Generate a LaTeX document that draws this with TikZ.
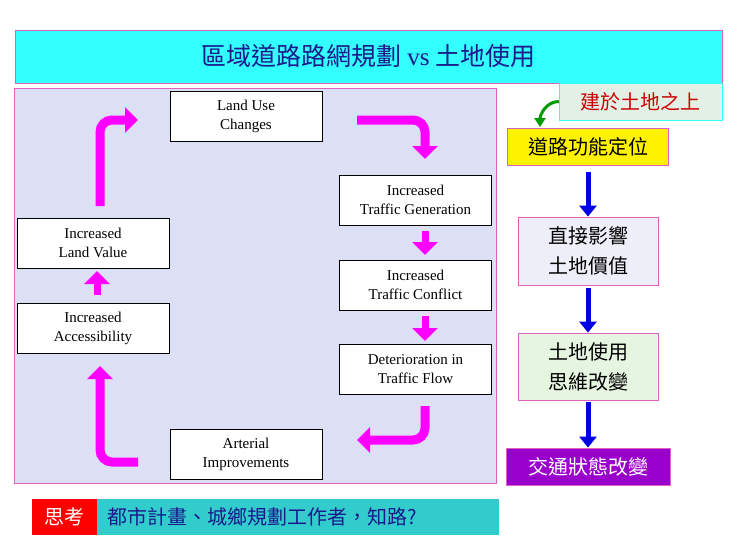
\documentclass[tikz,border=0pt]{standalone}
\usepackage{fontspec}
\setmainfont{Liberation Serif}
\newfontfamily\cjk{Noto Sans CJK TC}
\usetikzlibrary{arrows.meta}
\definecolor{lavbg}{HTML}{DDE0F5}
\definecolor{pinkline}{HTML}{E060C0}
\definecolor{titlecyan}{HTML}{33FFFF}
\definecolor{titleblue}{HTML}{1A1A8C}
\definecolor{flowpink}{HTML}{FF00FF}
\definecolor{sagegreen}{HTML}{E2F0E6}
\definecolor{mintbg}{HTML}{E6F5E0}
\definecolor{lilacbg}{HTML}{EEEEF8}
\definecolor{deeppurple}{HTML}{9900CC}
\definecolor{tealbox}{HTML}{33CCCC}
\tikzset{
  cyclebox/.style={draw=black, fill=white, minimum width=152pt, minimum height=50pt, align=center, font=\fontsize{15}{19}\selectfont, inner sep=0pt},
  cjkbox/.style={draw=pinkline, thick, align=center, inner sep=0pt, font=\cjk\fontsize{20}{30}\selectfont},
  flow/.style={flowpink, line width=9pt, -{Triangle[length=13pt,width=25pt]}, rounded corners=12pt},
  down/.style={blue!90!black, line width=5pt, -{Triangle[length=11pt,width=17pt]}}
}
\begin{document}
\begin{tikzpicture}[x=1pt,y=-1pt]
    \useasboundingbox (0,0) rectangle (740,555);
    \fill[white] (0,0) rectangle (740,555);

    % Title
    \node[draw=pinkline, fill=titlecyan, minimum width=707pt, minimum height=53pt, inner sep=0pt, text=titleblue, font=\fontsize{25}{28}\selectfont] (title) at (368.5,56.5) {{\cjk 區域道路路網規劃} vs {\cjk 土地使用}};

    % Cycle panel
    \draw[pinkline, fill=lavbg] (14,88) rectangle (496,483);
    \node[cyclebox] (landuse) at (246,116) {Land Use\\Changes};
    \node[cyclebox] (generation) at (415.5,200) {Increased\\Traffic Generation};
    \node[cyclebox] (conflict) at (415.5,285) {Increased\\Traffic Conflict};
    \node[cyclebox] (deterior) at (415.5,369.5) {Deterioration in\\Traffic Flow};
    \node[cyclebox] (arterial) at (246,454.5) {Arterial\\Improvements};
    \node[cyclebox] (access) at (93,328) {Increased\\Accessibility};
    \node[cyclebox] (landvalue) at (93,243) {Increased\\Land Value};

    % Flow arrows
    \draw[flow] (100,206) -- (100,120) -- (138,120);
    \draw[flow] (357,120) -- (425,120) -- (425,159);
    \draw[flow, line width=7pt] (425,231) -- (425,255);
    \draw[flow, line width=7pt] (425,316) -- (425,341);
    \draw[flow] (425,406) -- (425,440) -- (357,440);
    \draw[flow] (138,462) -- (100,462) -- (100,366);
    \draw[flow, line width=7pt] (97,295) -- (97,271);

    % Right column
    \node[draw=titlecyan, fill=sagegreen, minimum width=163pt, minimum height=37pt, inner sep=0pt, text=red!80!black, font=\cjk\fontsize{20}{22}\selectfont] (base) at (640.5,101.5) {建於土地之上};
    \node[cjkbox, fill=yellow, minimum width=161pt, minimum height=37pt] (role) at (588,146.5) {道路功能定位};
    \node[cjkbox, fill=lilacbg, minimum width=140pt, minimum height=68pt] (value) at (588,251) {直接影響\\土地價值};
    \node[cjkbox, fill=mintbg, minimum width=140pt, minimum height=67pt] (mind) at (588,366.5) {土地使用\\思維改變};
    \node[cjkbox, fill=deeppurple, text=white, minimum width=164pt, minimum height=37pt] (traffic) at (588,466.5) {交通狀態改變};
    \coordinate (roletop) at (540,127);
    \draw[green!60!black, line width=3pt, -{Triangle[length=9pt,width=11pt]}] (base.west) to[out=180, in=90] (roletop);
    \draw[down, shorten <=7pt] (role.south) -- (value.north);
    \draw[down, shorten <=3pt] (value.south) -- (mind.north);
    \draw[down, shorten <=2pt] (mind.south) -- (traffic.north);

    % Bottom question
    \node[fill=red, text=white, minimum width=65pt, minimum height=36pt, inner sep=0pt, font=\cjk\fontsize{20}{22}\selectfont] (think) at (64.5,517) {思考};
    \node[fill=tealbox, text=titleblue, anchor=west, minimum width=402pt, minimum height=36pt, inner sep=0pt, inner xsep=10pt, text width=382pt, font=\cjk\fontsize{20}{22}\selectfont] (question) at (think.east) {都市計畫、城鄉規劃工作者，知路?};
\end{tikzpicture}
\end{document}
